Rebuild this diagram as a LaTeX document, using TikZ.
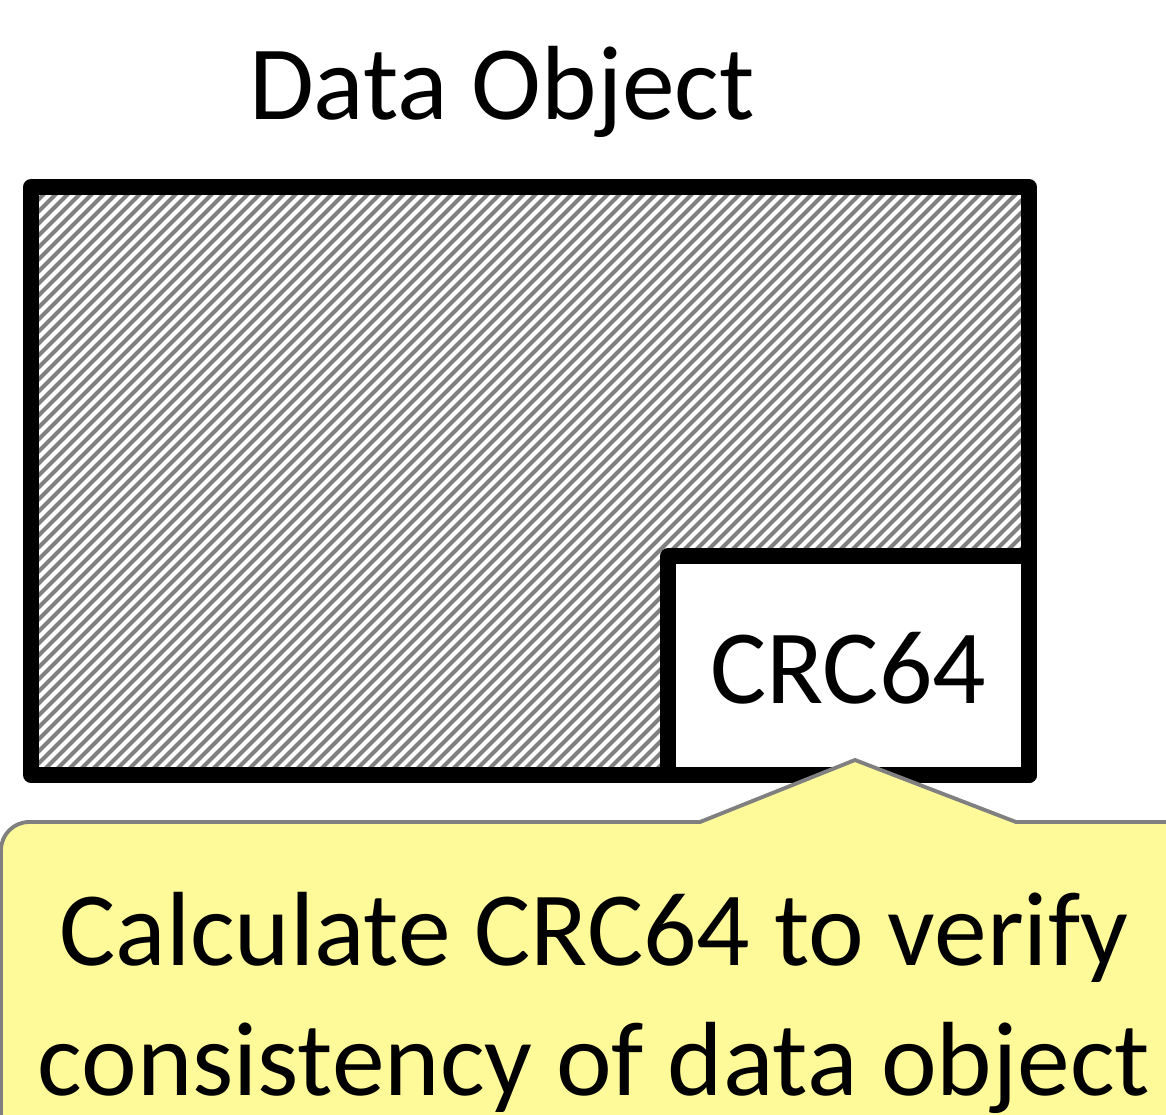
\documentclass[tikz,border=0pt]{standalone}
\usepackage{fontspec}
\setmainfont{Carlito}

\begin{document}
\begin{tikzpicture}[x=0.01cm, y=-0.01cm,
    frame/.style={draw, line width=4.5pt, line join=round},
    hatch/.style={draw=gray, line width=1.15pt},
    callout/.style={draw=gray, fill=yellow!40, line width=1.1pt},
    big/.style={font=\fontsize{30}{36.7}\selectfont}]
  \useasboundingbox (0,0) rectangle (1166,1115);
  \coordinate (tl) at (31,187);
  \coordinate (br) at (1029,775);
  \coordinate (crc) at (668,556);
  \coordinate (tip) at (855,760);

  \node[big, anchor=base] (title) at (502,120) {Data Object};

  \begin{scope}
    \clip (tl) rectangle (br);
    \foreach \x in {-600,-588,...,1040}
      \draw[hatch] (\x,790) -- ++(610,-610);
  \end{scope}
  \draw[frame] (tl) rectangle (br);
  \draw[frame, fill=white] (crc) rectangle (br);
  \node[big, anchor=base] (crctext) at (848,703) {CRC64};

  \draw[callout] (1,1130) [rounded corners=8pt]-- (1,822) [sharp corners]-- (700,822)
    -- (tip) -- (1016,822) -- (1180,822) -- (1180,1130) -- cycle;
  \node[big, align=center, anchor=base] (note) at (594,1095)
    {Calculate CRC64 to verify\\consistency of data object};
\end{tikzpicture}
\end{document}
